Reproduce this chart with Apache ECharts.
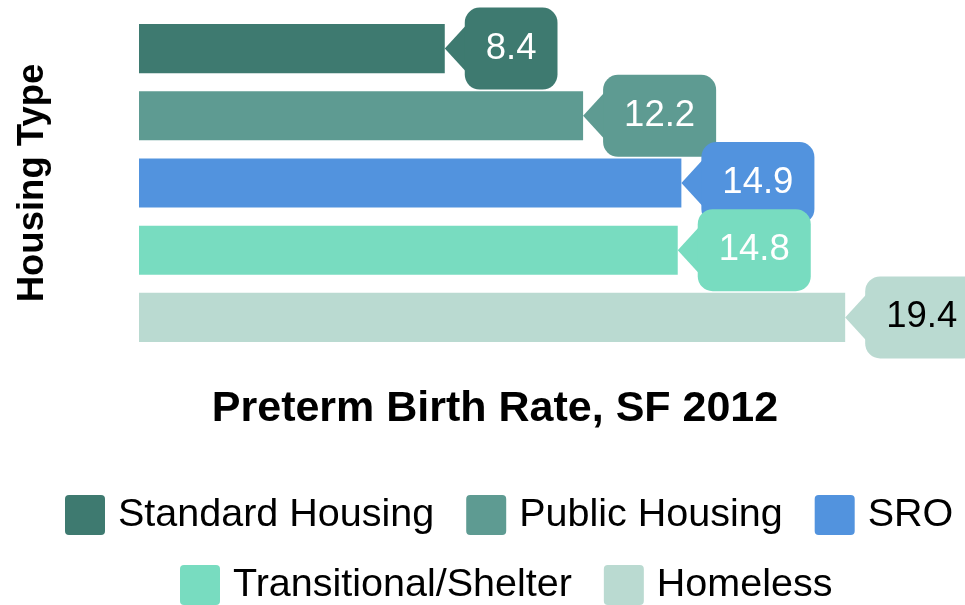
<!DOCTYPE html>
<html>
<head>
<meta charset="utf-8">
<script src="https://cdn.jsdelivr.net/npm/echarts@6/dist/echarts.min.js"></script>
<style>
  html, body { margin: 0; padding: 0; background: #fff; }
  #main { width: 965px; height: 605px; }
</style>
</head>
<body>
<div id="main"></div>
<script>
// data
var categories = ["Standard Housing", "Public Housing", "SRO", "Transitional/Shelter", "Homeless"];
var rates = [8.4, 12.2, 14.9, 14.8, 19.4];
var colors = ["#3e7a70", "#5e9b92", "#5293de", "#78dcc0", "#badad1"];
var labelColors = ["#fff", "#fff", "#fff", "#fff", "#000"];

var FONT = "'Liberation Sans', Arial, sans-serif";
var ICON = "path://M4,0H36Q40,0,40,4V36Q40,40,36,40H4Q0,40,0,36V4Q0,0,4,0Z";
var myChart = echarts.init(document.getElementById("main"));

// one stacked bar series per housing type so each gets its own legend entry
var barSeries = categories.map(function (name, i) {
  return {
    name: name,
    type: "bar",
    stack: "all",
    barWidth: "73%",
    itemStyle: { color: colors[i] },
    data: categories.map(function (c, j) {
      return j === i ? rates[i] : "-";
    })
  };
});

// callout labels
var calloutSeries = {
  type: "custom",
  z: 5,
  silent: true,
  encode: { x: 0, y: 1 },
  data: rates.map(function (v, i) {
    return [v, i];
  }),
  renderItem: function (params, api) {
    var i = params.dataIndex;
    var p = api.coord([api.value(0), api.value(1)]);
    var x = p[0], cy = p[1];
    return {
      type: "group",
      children: [
        {
          type: "polygon",
          shape: { points: [[x, cy], [x + 22, cy - 24], [x + 22, cy + 24]] },
          style: { fill: colors[i] }
        },
        {
          type: "text",
          x: x + 20,
          y: cy,
          style: {
            text: String(api.value(0)),
            fill: labelColors[i],
            font: "36.5px " + FONT,
            align: "left",
            verticalAlign: "middle",
            lineHeight: 42,
            backgroundColor: colors[i],
            padding: [20, 21, 20, 21],
            borderRadius: 15
          }
        }
      ]
    };
  }
};

function legendOf(names, left, top) {
  return {
    data: names,
    left: left,
    top: top,
    padding: 0,
    itemWidth: 40,
    itemHeight: 40,
    itemGap: 32,
    icon: ICON,
    textStyle: { fontFamily: FONT, fontSize: 39.5, color: "#000", padding: [5, 0, 0, 8] }
  };
}

var option = {
  animation: false,
  grid: { left: 139, top: 15, width: 712, height: 336 },
  xAxis: {
    type: "value",
    min: 0,
    max: 19.56,
    name: "Preterm Birth Rate, SF 2012",
    nameLocation: "middle",
    nameGap: 37,
    nameTextStyle: { fontFamily: FONT, fontWeight: "bold", fontSize: 43, color: "#000" },
    axisLine: { show: false },
    axisTick: { show: false },
    axisLabel: { show: false },
    splitLine: { show: false }
  },
  yAxis: {
    type: "category",
    inverse: true,
    data: categories,
    name: "Housing Type",
    nameLocation: "middle",
    nameGap: 88,
    nameTextStyle: { fontFamily: FONT, fontWeight: "bold", fontSize: 36.5, color: "#000" },
    axisLine: { show: false },
    axisTick: { show: false },
    axisLabel: { show: false },
    splitLine: { show: false }
  },
  legend: [
    legendOf(categories.slice(0, 3), 65, 495),
    legendOf(categories.slice(3), 180, 565)
  ],
  series: barSeries.concat([calloutSeries])
};

myChart.setOption(option);
window.addEventListener("resize", function () {
  myChart.resize();
});
</script>
</body>
</html>
